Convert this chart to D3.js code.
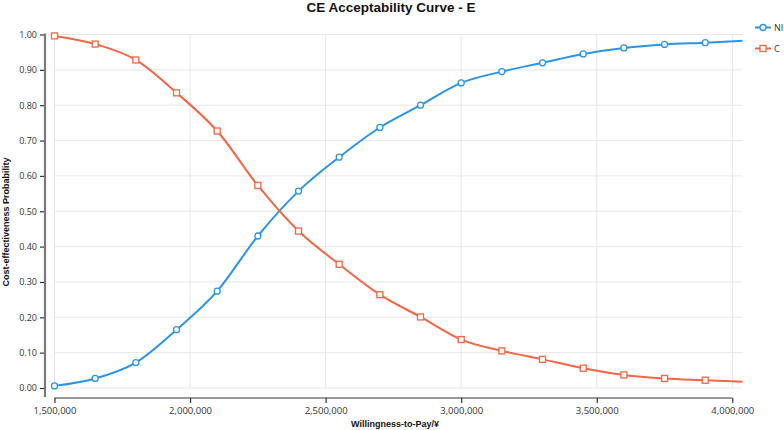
<!DOCTYPE html>
<html>
<head>
<meta charset="utf-8">
<script src="https://cdn.jsdelivr.net/npm/d3@7"></script>
<style>
  body { margin: 0; background: #fff; }
  svg { display: block; font-family: "Open Sans", "Noto Sans", sans-serif; }
</style>
</head>
<body>
<div id="chart"></div>
<script>
const wtp = [1500000, 1650000, 1800000, 1950000, 2100000, 2250000, 2400000, 2550000, 2700000,
  2850000, 3000000, 3150000, 3300000, 3450000, 3600000, 3750000, 3900000, 4050000];
const seriesNames = ["NI", "C"];
const niValues = [0.006, 0.027, 0.072, 0.165, 0.274, 0.430, 0.557, 0.653, 0.737,
  0.800, 0.863, 0.895, 0.920, 0.945, 0.962, 0.972, 0.977, 0.983];
const cValues = [0.996, 0.973, 0.928, 0.835, 0.727, 0.573, 0.444, 0.350, 0.264,
  0.201, 0.137, 0.105, 0.081, 0.056, 0.037, 0.027, 0.022, 0.017];
const xTicks = [1500000, 2000000, 2500000, 3000000, 3500000, 4000000];
const yTicks = [0, 0.1, 0.2, 0.3, 0.4, 0.5, 0.6, 0.7, 0.8, 0.9, 1.0];
const colors = ["#2b93e6", "#f26645"];

const width = 784, height = 430;
const plotLeft = 54.5, plotRight = 742.5, plotTop = 34.5, plotBottom = 388;

const svg = d3.select("#chart").append("svg")
  .attr("width", width)
  .attr("height", height);

const x = d3.scaleLinear().domain([1500000, 4037500]).range([plotLeft, plotRight]);
const y = d3.scaleLinear().domain([0, 1]).range([plotBottom, plotTop]);

svg.append("defs").append("clipPath").attr("id", "plot")
  .append("rect").attr("x", plotLeft - 6).attr("y", plotTop - 6)
  .attr("width", plotRight - plotLeft + 6).attr("height", plotBottom - plotTop + 12);

// grid
svg.append("g").selectAll("line").data(yTicks).join("line")
  .attr("x1", plotLeft).attr("x2", plotRight)
  .attr("y1", d => y(d)).attr("y2", d => y(d))
  .attr("stroke", "#e6e6e6").attr("stroke-width", 1);
svg.append("g").selectAll("line").data(xTicks).join("line")
  .attr("x1", d => x(d)).attr("x2", d => x(d))
  .attr("y1", plotTop).attr("y2", plotBottom)
  .attr("stroke", "#e6e6e6").attr("stroke-width", 1);

// y axis (offset to the left)
const yAxis = svg.append("g")
  .attr("transform", "translate(45,0)")
  .call(d3.axisLeft(y).tickValues(yTicks).tickFormat(d3.format(".2f")).tickSize(5).tickSizeOuter(0));
yAxis.select(".domain").remove();
yAxis.append("line").attr("x1", 0).attr("x2", 0).attr("y1", plotTop - 1).attr("y2", 397)
  .attr("stroke", "#7a7a7a").attr("stroke-width", 2.2);
yAxis.selectAll(".tick line").attr("stroke", "#333").attr("stroke-width", 1.2);
yAxis.selectAll(".tick text").attr("fill", "#333").attr("font-size", 9)
  .attr("font-family", "'Open Sans', sans-serif").attr("x", -8);

// x axis (offset below)
const xAxis = svg.append("g")
  .attr("transform", "translate(0,398)")
  .call(d3.axisBottom(x).tickValues(xTicks).tickFormat(d3.format(",")).tickSize(5).tickSizeOuter(0));
xAxis.select(".domain").remove();
xAxis.append("line").attr("x1", x(1500000)).attr("x2", x(4000000)).attr("y1", 0).attr("y2", 0)
  .attr("stroke", "#333").attr("stroke-width", 1.2);
xAxis.selectAll(".tick line").attr("stroke", "#333").attr("stroke-width", 1.2);
xAxis.selectAll(".tick text").attr("fill", "#333").attr("font-size", 9.5)
  .attr("font-family", "'Open Sans', sans-serif").attr("y", 9);

// titles
svg.append("text").attr("x", 391).attr("y", 12).attr("text-anchor", "middle")
  .attr("font-family", "'Liberation Sans', Arial, sans-serif")
  .attr("font-weight", "bold").attr("font-size", 13.5).attr("fill", "#111")
  .text("CE Acceptability Curve - E");
svg.append("text").attr("x", 395).attr("y", 427).attr("text-anchor", "middle")
  .attr("font-family", "'Liberation Sans', Arial, sans-serif")
  .attr("font-weight", "bold").attr("font-size", 9).attr("fill", "#111")
  .text("Willingness-to-Pay/¥");
svg.append("text").attr("transform", "translate(8.5,222) rotate(-90)").attr("text-anchor", "middle")
  .attr("font-family", "'Liberation Sans', Arial, sans-serif")
  .attr("font-weight", "bold").attr("font-size", 9).attr("fill", "#111")
  .text("Cost-effectiveness Probability");

// series
const series = [niValues, cValues];
const line = d3.line().x((d, i) => x(wtp[i])).y(d => y(d)).curve(d3.curveMonotoneX);
const plot = svg.append("g").attr("clip-path", "url(#plot)");

series.forEach((vals, s) => {
  plot.append("path").datum(vals)
    .attr("d", line).attr("fill", "none")
    .attr("stroke", colors[s]).attr("stroke-width", 2);
  const pts = vals.slice(0, vals.length - 1);
  if (s === 0) {
    plot.append("g").selectAll("circle").data(pts).join("circle")
      .attr("cx", (d, i) => x(wtp[i])).attr("cy", d => y(d)).attr("r", 3)
      .attr("fill", "#fff").attr("stroke", colors[s]).attr("stroke-width", 1.3);
  } else {
    plot.append("g").selectAll("rect").data(pts).join("rect")
      .attr("x", (d, i) => x(wtp[i]) - 3).attr("y", d => y(d) - 3)
      .attr("width", 6).attr("height", 6)
      .attr("fill", "#fff").attr("stroke", colors[s]).attr("stroke-width", 1.3);
  }
});

// legend
const legend = svg.append("g");
seriesNames.forEach((name, s) => {
  const ly = 27.5 + s * 21;
  legend.append("line").attr("x1", 755).attr("x2", 771).attr("y1", ly).attr("y2", ly)
    .attr("stroke", colors[s]).attr("stroke-width", 2);
  if (s === 0) {
    legend.append("circle").attr("cx", 763).attr("cy", ly).attr("r", 3)
      .attr("fill", "#fff").attr("stroke", colors[s]).attr("stroke-width", 1.3);
  } else {
    legend.append("rect").attr("x", 760).attr("y", ly - 3).attr("width", 6).attr("height", 6)
      .attr("fill", "#fff").attr("stroke", colors[s]).attr("stroke-width", 1.3);
  }
  legend.append("text").attr("x", 774).attr("y", ly + 3.5)
    .attr("font-size", 9).attr("fill", "#333").text(name);
});
</script>
</body>
</html>
